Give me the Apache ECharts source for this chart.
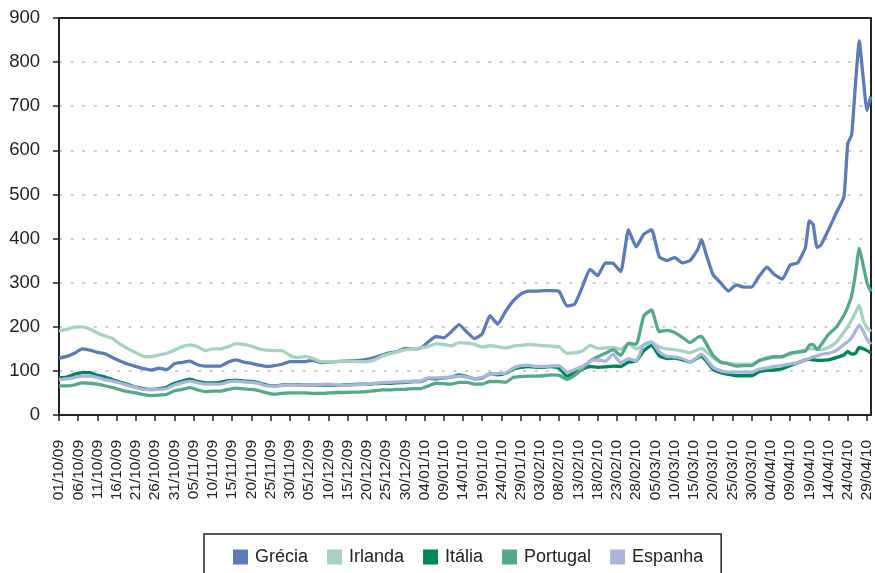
<!DOCTYPE html>
<html>
<head>
<meta charset="utf-8">
<script src="https://cdn.jsdelivr.net/npm/echarts@6/dist/echarts.min.js"></script>
<style>
  html, body { margin: 0; padding: 0; background: #ffffff; }
  #chart { width: 875px; height: 573px; }
</style>
</head>
<body>
<div id="chart"></div>
<script>
// Axis tick labels, one every five days (printed exactly as in the source series)
const tickLabels = [
  '01/10/09','06/10/09','11/10/09','16/10/09','21/10/09','26/10/09','31/10/09',
  '05/11/09','10/11/09','15/11/09','20/11/09','25/11/09','30/11/09',
  '05/12/09','10/12/09','15/12/09','20/12/09','25/12/09','30/12/09',
  '04/01/10','09/01/10','14/01/10','19/01/10','24/01/10','29/01/10',
  '03/02/10','08/02/10','13/02/10','18/02/10','23/02/10','28/02/10',
  '05/03/10','10/03/10','15/03/10','20/03/10','25/03/10','30/03/10',
  '04/04/10','09/04/10','19/04/10','14/04/10','24/04/10','29/04/10'
];

// Observation days, counted from 01/10/2009
const sampleDays = [
  0,2,4,6,8,10,12,14,16,18,
  20,22,24,26,28,30,32,34,36,38,
  40,42,44,46,48,50,52,54,56,58,
  60,62,64,66,68,70,72,74,76,78,
  80,82,84,86,88,90,92,94,96,98,
  100,102,104,106,108,110,112,114,116,118,
  120,122,124,126,128,130,132,134,136,138,
  140,142,144,146,148,150,152,154,156,158,
  160,162,164,166,167,168,170,172,174,176,
  178,180,182,184,186,188,190,192,194,195,
  196,197,198,200,202,204,205,206,207,208,
  209,210,211
];

// Spreads (basis points), aligned with sampleDays
const grecia = [
  129,133,140,150,147,142,139,130,122,115,
  110,105,102,106,103,116,119,122,114,111,
  111,111,120,125,120,117,113,110,112,115,
  121,121,121,124,119,120,121,122,123,124,
  126,130,136,141,144,151,150,152,166,178,
  175,189,205,188,173,184,225,206,234,258,
  274,281,281,282,282,280,247,251,290,330,
  316,345,344,325,420,381,410,420,359,350,
  357,345,350,375,398,370,318,299,281,295,
  290,290,315,335,318,308,340,345,380,440,
  432,380,385,420,458,495,615,635,750,848,
  765,690,722
];
const irlanda = [
  190,194,199,200,195,186,179,173,160,150,
  141,133,132,136,140,147,155,159,155,146,
  150,150,155,162,160,156,150,147,146,146,
  135,130,133,128,121,121,121,122,122,121,
  121,125,133,139,143,148,150,152,155,162,
  160,157,164,163,160,154,157,155,152,156,
  158,160,159,157,156,154,140,141,145,158,
  151,152,153,149,162,150,158,165,154,150,
  148,145,141,148,151,145,130,119,117,115,
  115,115,122,131,132,133,138,142,148,150,
  150,149,148,153,165,188,200,215,232,249,
  215,198,189
];
const italia = [
  84,86,92,96,96,90,86,80,74,69,
  63,60,58,60,63,72,77,81,76,73,
  73,74,78,79,77,76,73,68,66,68,
  69,68,68,68,68,68,67,68,69,70,
  70,71,72,72,73,74,76,76,83,82,
  84,86,91,87,82,84,93,91,94,104,
  108,110,108,108,110,106,88,96,104,110,
  108,109,111,110,120,122,146,158,134,128,
  129,125,120,130,133,125,103,96,92,89,
  89,89,98,101,102,105,112,118,125,126,
  125,124,124,125,130,136,144,138,140,153,
  150,146,141
];
const portugal = [
  66,66,68,73,72,70,66,62,57,53,
  50,46,44,45,47,55,58,62,57,53,
  54,54,58,61,59,58,55,50,47,49,
  50,50,50,49,49,50,51,51,52,52,
  53,55,57,57,58,58,60,60,66,72,
  71,70,74,74,70,70,76,76,74,85,
  87,88,88,89,91,90,81,90,105,122,
  132,140,148,135,163,160,225,238,189,192,
  187,176,164,176,178,165,135,120,116,111,
  112,112,124,128,132,132,140,143,145,158,
  160,148,158,183,199,226,245,270,320,378,
  340,300,280
];
const espanha = [
  80,82,85,88,88,85,80,77,72,67,
  62,58,57,58,60,68,73,77,73,70,
  70,70,75,77,75,74,71,66,65,67,
  68,67,68,68,69,70,68,67,68,69,
  70,72,73,74,75,76,76,77,84,84,
  85,86,88,86,82,85,92,94,95,106,
  112,113,110,110,111,112,97,103,110,122,
  125,122,138,118,128,122,160,166,143,133,
  132,128,120,132,138,130,108,100,97,97,
  97,97,104,107,110,112,116,118,125,128,
  132,134,137,140,146,160,166,175,190,204,
  190,172,160
];

const seriesNames = ['Grécia', 'Irlanda', 'Itália', 'Portugal', 'Espanha'];
const seriesColors = ['#5b7bb9', '#a5d3c0', '#00865a', '#55a988', '#a8b6dc'];
const seriesValues = [grecia, irlanda, italia, portugal, espanha];

// Daily category axis: 01/10/2009 to 30/04/2010
const dayCount = 212;
const categories = [];
const pad = n => (n < 10 ? '0' : '') + n;
for (let i = 0; i < dayCount; i++) {
  const d = new Date(Date.UTC(2009, 9, 1 + i));
  categories.push(pad(d.getUTCDate()) + '/' + pad(d.getUTCMonth() + 1) + '/' + String(d.getUTCFullYear()).slice(2));
}

function toDaily(values) {
  const out = new Array(dayCount).fill(null);
  sampleDays.forEach((day, i) => { out[day] = values[i]; });
  return out;
}

const textColor = '#222222';
const fontFamily = '"Liberation Sans", Arial, Helvetica, sans-serif';

const chart = echarts.init(document.getElementById('chart'), null, { renderer: 'canvas' });
chart.setOption({
  animation: false,
  backgroundColor: '#ffffff',
  textStyle: { fontFamily: fontFamily, color: textColor },
  grid: { left: 59, right: 2, top: 18, bottom: 158, containLabel: false },
  legend: {
    data: seriesNames,
    left: 204,
    top: 534,
    orient: 'horizontal',
    icon: 'rect',
    itemWidth: 15,
    itemHeight: 15,
    itemGap: 19,
    padding: [14, 18, 30, 29],
    borderColor: '#222222',
    borderWidth: 1.5,
    textStyle: { fontSize: 18, color: textColor, fontFamily: fontFamily, padding: [0, 0, 0, 2] }
  },
  xAxis: [
    {
      type: 'category',
      data: categories,
      boundaryGap: false,
      axisLine: { show: true, onZero: false, lineStyle: { color: '#222222', width: 2 } },
      axisTick: { show: true, interval: 4, length: 6, lineStyle: { color: '#222222', width: 1.5 } },
      axisLabel: {
        interval: 4,
        rotate: 90,
        margin: 25,
        fontSize: 15.5,
        color: textColor,
        fontFamily: fontFamily,
        formatter: (value, index) => tickLabels[Math.round(index / 5)] || ''
      },
      splitLine: { show: false }
    },
    {
      type: 'category',
      data: categories,
      position: 'top',
      boundaryGap: false,
      axisLine: { show: true, onZero: false, lineStyle: { color: '#222222', width: 2 } },
      axisTick: { show: false },
      axisLabel: { show: false },
      splitLine: { show: false }
    }
  ],
  yAxis: [
    {
      type: 'value',
      min: 0,
      max: 900,
      interval: 100,
      axisLine: { show: true, onZero: false, lineStyle: { color: '#222222', width: 2 } },
      axisTick: { show: true, length: 6, lineStyle: { color: '#222222', width: 1.5 } },
      axisLabel: { fontSize: 18.5, color: textColor, margin: 19, fontFamily: fontFamily },
      splitLine: {
        show: true,
        showMinLine: false,
        showMaxLine: false,
        lineStyle: { color: '#bdbdbd', width: 1.5, type: [3, 8.6] }
      }
    },
    {
      type: 'value',
      min: 0,
      max: 900,
      interval: 100,
      position: 'right',
      axisLine: { show: true, onZero: false, lineStyle: { color: '#222222', width: 2 } },
      axisTick: { show: false },
      axisLabel: { show: false },
      splitLine: { show: false }
    }
  ],
  series: seriesNames.map((name, i) => ({
    name: name,
    type: 'line',
    xAxisIndex: 0,
    yAxisIndex: 0,
    data: toDaily(seriesValues[i]),
    connectNulls: true,
    showSymbol: false,
    symbol: 'none',
    smooth: 0.15,
    color: seriesColors[i],
    lineStyle: { width: 3.3, color: seriesColors[i] },
    z: 2 + i
  }))
});
</script>
</body>
</html>
